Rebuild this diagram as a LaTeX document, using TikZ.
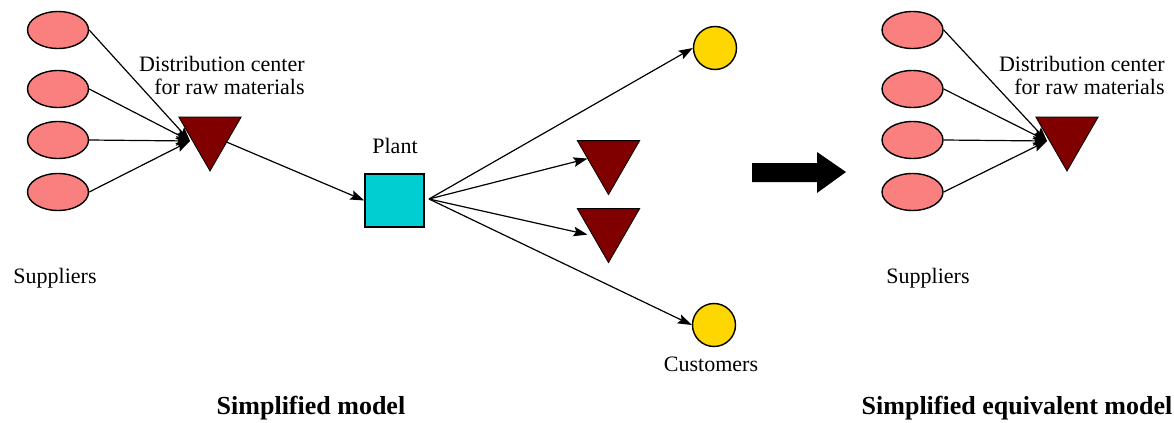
\documentclass[tikz,border=0pt]{standalone}
\usepackage{fontspec}
\setmainfont{Liberation Serif}
\usetikzlibrary{shapes.geometric,arrows.meta,calc}
\definecolor{supfill}{RGB}{250,128,128}
\definecolor{dcfill}{RGB}{128,0,0}
\definecolor{plantfill}{RGB}{0,206,209}
\definecolor{custfill}{RGB}{255,215,0}
\tikzset{
  supplier/.style={ellipse,draw=black,fill=supfill,line width=0.7pt,minimum width=30.5pt,minimum height=18.5pt,inner sep=0pt},
  dcenter/.style={regular polygon,regular polygon sides=3,shape border rotate=180,draw=black,fill=dcfill,line width=0.4pt,minimum size=36pt,inner sep=0pt},
  plantbox/.style={rectangle,draw=black,fill=plantfill,line width=0.7pt,minimum width=29.5pt,minimum height=26.5pt,inner sep=0pt},
  customer/.style={circle,draw=black,fill=custfill,line width=0.7pt,minimum size=21.5pt,inner sep=0pt},
  lbl/.style={font=\fontsize{11}{11.5}\selectfont,inner sep=0pt},
  title/.style={font=\fontsize{13}{14}\selectfont\bfseries,inner sep=0pt},
  arr/.style={-{Stealth[length=7pt,width=4.8pt,inset=1.2pt]},line width=0.6pt}
}
\begin{document}
\begin{tikzpicture}[x=0.5pt,y=-0.5pt]
\useasboundingbox (0,0) rectangle (1174,423);
% ---------- left: simplified model ----------
\node[supplier] (s1) at (58,30) {};
\node[supplier] (s2) at (58,89) {};
\node[supplier] (s3) at (58,140) {};
\node[supplier] (s4) at (58,192) {};
\node[dcenter] (dc) at (210,135) {};
\coordinate (dcin) at (190,141);
\node[lbl,align=right,anchor=east] (dclbl) at (305,75) {Distribution center\\for raw materials};
\node[lbl] (suplbl) at (55,278) {Suppliers};
\foreach \i in {1,...,4} \draw[arr] (s\i.east) -- (dcin);

\node[plantbox] (plant) at (394.5,200.5) {};
\node[lbl] (plantlbl) at (395,146) {Plant};
\draw[arr] (dc) -- (plant.west);

\coordinate (pout) at (429,199);
\node[customer] (c1) at (715,48) {};
\node[customer] (c2) at (714,325) {};
\node[dcenter] (t2) at (608.5,158.6) {};
\node[dcenter] (t3) at (608.5,226.6) {};
\node[lbl] (custlbl) at (711,364) {Customers};
\draw[arr] (pout) -- (c1.west);
\draw[arr] (pout) -- ($(t2)+(-21,0)$);
\draw[arr] (pout) -- ($(t3)+(-21,8)$);
\draw[arr] (pout) -- (c2.west);

\node[title] (t1lbl) at (311,408) {Simplified model};

% ---------- big arrow ----------
\fill (752,163) -- (817,163) -- (817,152) -- (846,172) -- (817,193) -- (817,182) -- (752,182) -- cycle;

% ---------- right: simplified equivalent model ----------
\node[supplier] (r1) at (912.5,30) {};
\node[supplier] (r2) at (912.5,89) {};
\node[supplier] (r3) at (912.5,140) {};
\node[supplier] (r4) at (912.5,192) {};
\node[dcenter] (rdc) at (1067,135) {};
\coordinate (rdcin) at (1047,141);
\node[lbl,align=right,anchor=east] (rdclbl) at (1165,75) {Distribution center\\for raw materials};
\node[lbl] (rsuplbl) at (928,278) {Suppliers};
\foreach \i in {1,...,4} \draw[arr] (r\i.east) -- (rdcin);

\node[title] (t2lbl) at (1017,408) {Simplified equivalent model};
\end{tikzpicture}
\end{document}
